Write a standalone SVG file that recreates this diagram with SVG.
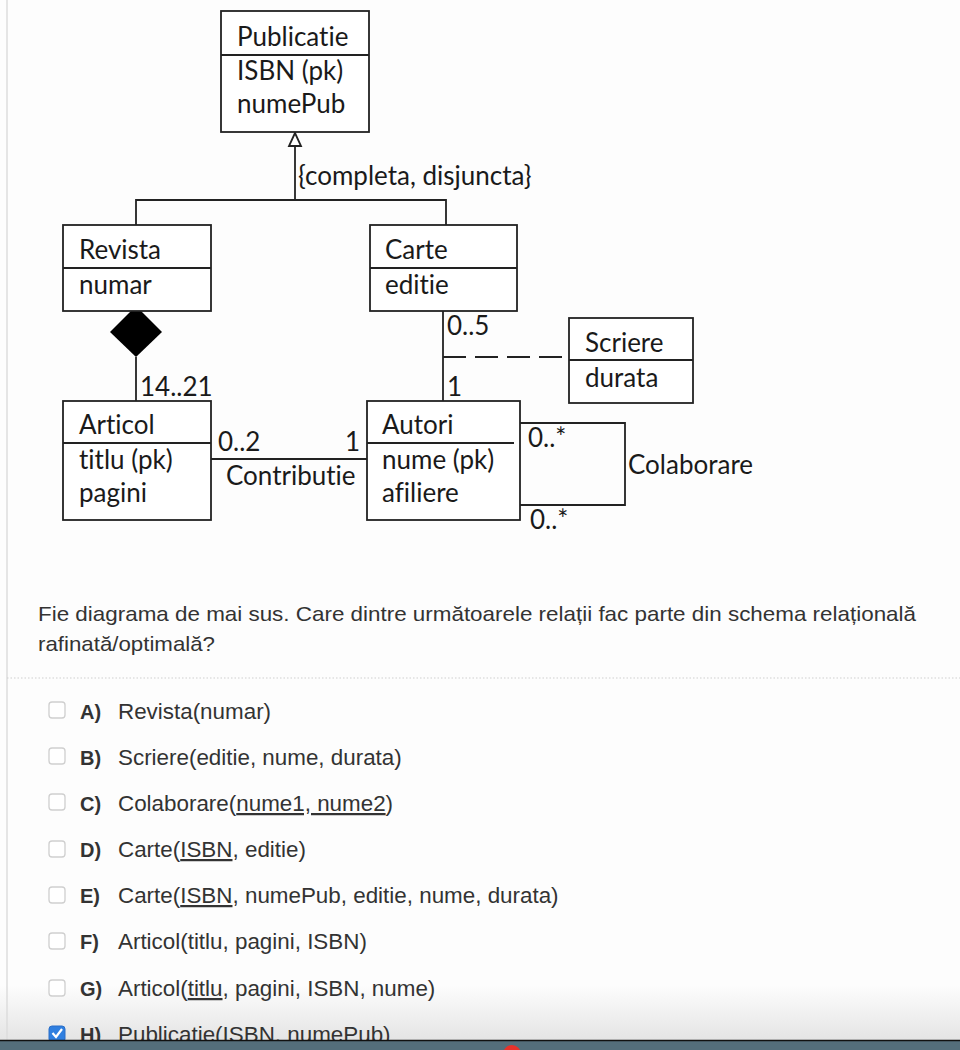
<svg xmlns="http://www.w3.org/2000/svg" width="960" height="1050" viewBox="0 0 960 1050">
<defs>
<style>
.box{fill:#fff;stroke:#222;stroke-width:1.8}
.ln{fill:none;stroke:#222;stroke-width:1.8}
.d{font-family:Lato,"Open Sans","Liberation Sans",sans-serif;font-size:26px;fill:#1a1a1a;font-variant-ligatures:none}
.q{font-family:"Liberation Sans",Arial,sans-serif;font-size:21px;fill:#333}
.o{font-family:"Liberation Sans",Arial,sans-serif;font-size:22.4px;fill:#333}
.b{font-family:"Liberation Sans",Arial,sans-serif;font-size:20px;font-weight:bold;fill:#333}
.u{text-decoration:underline}
.cb{fill:#fff;stroke:#cfcfcf;stroke-width:1.3}
</style>
<linearGradient id="fade" x1="0" y1="0" x2="0" y2="1">
<stop offset="0" stop-color="#fdfdfd"/>
<stop offset="1" stop-color="#e4e4e4"/>
</linearGradient>
</defs>
<rect x="0" y="0" width="960" height="1050" fill="#fdfdfd"/>
<rect x="0" y="985" width="960" height="56" fill="url(#fade)"/>
<line x1="7" y1="0" x2="7" y2="1040" stroke="#dcdcdc" stroke-width="1.5"/>

<g id="connectors">
<polygon points="295,133 289,146 301,146" fill="#fff" stroke="#222" stroke-width="1.8"/>
<polyline class="ln" points="295,146 295,200"/>
<polyline class="ln" points="136,225 136,200 446,200 446,225"/>
<polygon points="136,306 162,332 136,357 110,332" fill="#000"/>
<line class="ln" x1="136" y1="357" x2="136" y2="401"/>
<line class="ln" x1="211" y1="459" x2="367" y2="459"/>
<line class="ln" x1="443" y1="311" x2="443" y2="401"/>
<line class="ln" x1="443" y1="357" x2="569" y2="357" stroke-dasharray="23 9"/>
<polyline class="ln" points="520,423 625,423 625,505 520,505" stroke-width="2.4"/>
<text class="d" x="298" y="185">{completa, disjuncta}</text>
<text class="d" x="140" y="396">14..21</text>
<text class="d" x="218" y="451">0..2</text>
<text class="d" x="345" y="451">1</text>
<text class="d" x="226" y="485">Contributie</text>
<text class="d" x="447" y="335">0..5</text>
<text class="d" x="447" y="396">1</text>
<text class="d" x="528" y="447">0..*</text>
<text class="d" x="530" y="529">0..*</text>
<text class="d" x="628" y="474">Colaborare</text>
</g>

<g id="Publicatie">
<rect class="box" x="221" y="11" width="148" height="121"/>
<line class="ln" x1="221" y1="55" x2="369" y2="55"/>
<text class="d" x="237" y="46">Publicatie</text>
<text class="d" x="237" y="80">ISBN (pk)</text>
<text class="d" x="237" y="113">numePub</text>
</g>
<g id="Revista">
<rect class="box" x="63" y="225" width="148" height="86"/>
<line class="ln" x1="63" y1="268" x2="211" y2="268"/>
<text class="d" x="79" y="259">Revista</text>
<text class="d" x="79" y="294">numar</text>
</g>
<g id="Carte">
<rect class="box" x="370" y="225" width="147" height="86"/>
<line class="ln" x1="370" y1="268" x2="517" y2="268"/>
<text class="d" x="385" y="259">Carte</text>
<text class="d" x="385" y="294">editie</text>
</g>
<g id="Scriere">
<rect class="box" x="569" y="318" width="124" height="85"/>
<line class="ln" x1="569" y1="360" x2="693" y2="360"/>
<text class="d" x="585" y="352">Scriere</text>
<text class="d" x="585" y="387">durata</text>
</g>
<g id="Articol">
<rect class="box" x="63" y="401" width="148" height="119"/>
<line class="ln" x1="63" y1="443" x2="211" y2="443"/>
<text class="d" x="79" y="434">Articol</text>
<text class="d" x="79" y="469">titlu (pk)</text>
<text class="d" x="79" y="502">pagini</text>
</g>
<g id="Autori">
<rect class="box" x="367" y="401" width="153" height="119"/>
<line class="ln" x1="367" y1="443" x2="514" y2="443"/>
<text class="d" x="382" y="434">Autori</text>
<text class="d" x="382" y="469">nume (pk)</text>
<text class="d" x="382" y="502">afiliere</text>
</g>

<g id="question">
<text class="q" x="38" y="621" textLength="878" lengthAdjust="spacingAndGlyphs">Fie diagrama de mai sus. Care dintre următoarele relații fac parte din schema relațională</text>
<text class="q" x="38" y="651" textLength="177" lengthAdjust="spacingAndGlyphs">rafinată/optimală?</text>
<line x1="7" y1="678" x2="960" y2="678" stroke="#cfcfcf" stroke-width="1" stroke-dasharray="1.5 2"/>
</g>

<g id="options">
<rect class="cb" x="49" y="702" width="16" height="16" rx="3"/>
<text class="b" x="80" y="719">A)</text>
<text class="o" x="118" y="719">Revista(numar)</text>

<rect class="cb" x="49" y="748" width="16" height="16" rx="3"/>
<text class="b" x="80" y="765">B)</text>
<text class="o" x="118" y="765">Scriere(editie, nume, durata)</text>

<rect class="cb" x="49" y="794" width="16" height="16" rx="3"/>
<text class="b" x="80" y="811">C)</text>
<text class="o" x="118" y="811">Colaborare(<tspan class="u">nume1, nume2</tspan>)</text>

<rect class="cb" x="49" y="841" width="16" height="16" rx="3"/>
<text class="b" x="80" y="857">D)</text>
<text class="o" x="118" y="857">Carte(<tspan class="u">ISBN</tspan>, editie)</text>

<rect class="cb" x="49" y="887" width="16" height="16" rx="3"/>
<text class="b" x="80" y="903">E)</text>
<text class="o" x="118" y="903">Carte(<tspan class="u">ISBN</tspan>, numePub, editie, nume, durata)</text>

<rect class="cb" x="49" y="933" width="16" height="16" rx="3"/>
<text class="b" x="80" y="949">F)</text>
<text class="o" x="118" y="949">Articol(titlu, pagini, ISBN)</text>

<rect class="cb" x="49" y="980" width="16" height="16" rx="3"/>
<text class="b" x="80" y="996">G)</text>
<text class="o" x="118" y="996">Articol(<tspan class="u">titlu</tspan>, pagini, ISBN, nume)</text>

<rect x="49" y="1026" width="16" height="16" rx="3" fill="#2f7fe0" stroke="#2a6fc8" stroke-width="1"/>
<polyline points="52.5,1033 56,1037 62,1029" fill="none" stroke="#fff" stroke-width="2.2"/>
<text class="b" x="80" y="1042">H)</text>
<text class="o" x="118" y="1042">Publicatie(<tspan class="u">ISBN, numePub</tspan>)</text>
</g>

<g id="taskbar">
<rect x="0" y="1040" width="960" height="10" fill="#546e7b"/>
<line x1="0" y1="1040.5" x2="960" y2="1040.5" stroke="#111" stroke-width="1.5"/>
<circle cx="512" cy="1054" r="9" fill="#e8322a"/>
</g>
</svg>
